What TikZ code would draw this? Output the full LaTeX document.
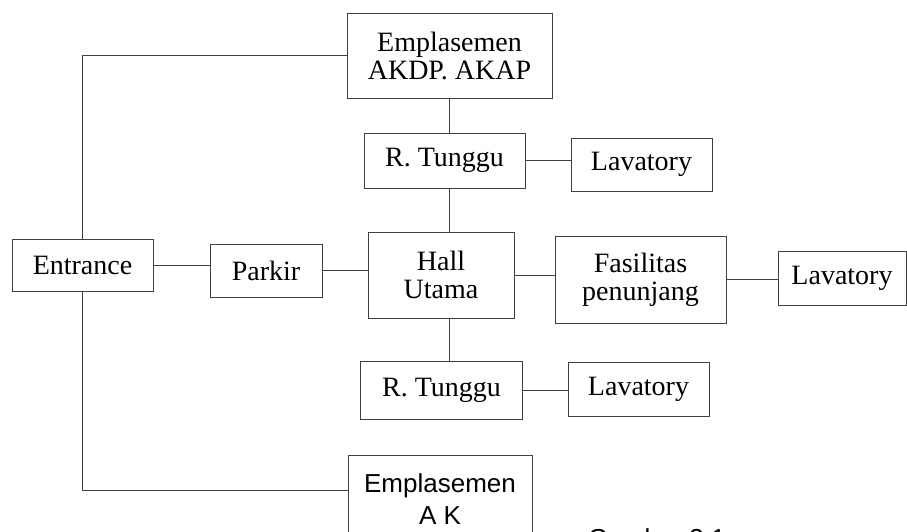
\documentclass[tikz,border=0pt]{standalone}
\usepackage{fontspec}
\setmainfont{Liberation Serif}
\newfontfamily\akfont{Liberation Sans}
\usetikzlibrary{calc}

\begin{document}
\begin{tikzpicture}[x=1pt, y=-1pt,
    every node/.style={font=\fontsize{28}{28}\selectfont},
    room/.style={draw=black!75, line width=0.8pt, inner sep=0pt, align=center},
    link/.style={draw=black!75, line width=0.8pt}]
  \useasboundingbox (0,0) rectangle (907,532);
  \clip (0,0) rectangle (907,532);

  % Emplasemen and waiting rooms
  \node[room, minimum width=205, minimum height=85] (emp) at (449.5,55.5) {Emplasemen\\AKDP. AKAP};
  \node[room, minimum width=161, minimum height=55] (rt1) at (444.5,160.5) {R. Tunggu};
  \node[room, minimum width=141, minimum height=53] (lav1) at (641.5,164.5) {Lavatory};

  % Main row
  \node[room, minimum width=141, minimum height=52] (entrance) at (82.5,265) {Entrance};
  \node[room, minimum width=112, minimum height=53] (parkir) at (266,270.5) {Parkir};
  \node[room, minimum width=146, minimum height=86] (hall) at (441,275) {Hall\\Utama};
  \node[room, minimum width=171, minimum height=87] (fas) at (640.5,279.5) {Fasilitas\\penunjang};
  \node[room, minimum width=128, minimum height=54] (lav3) at (842,278) {Lavatory};

  % Lower waiting room
  \node[room, minimum width=162, minimum height=58] (rt2) at (441.5,390) {R. Tunggu};
  \node[room, minimum width=141, minimum height=54] (lav2) at (638.5,389) {Lavatory};

  % Emplasemen AK, runs off the page
  \node[room, font=\akfont\fontsize{26}{32}\selectfont, minimum width=184, minimum height=88,
        anchor=north] (ak) at (440,455) {Emplasemen\\A K};
  \node[font=\akfont\fontsize{26}{30}\selectfont, anchor=base west, inner sep=0pt] (cap) at (588,547) {Gambar 3.1};

  % Links
  \draw[link] (entrance.north) |- (emp.west);
  \draw[link] (entrance.south) |- ($(ak.north west)+(0,35)$);
  \draw[link] (entrance.east) -- (entrance.east -| parkir.west);
  \draw[link] (parkir.east) -- (parkir.east -| hall.west);
  \draw[link] (hall.east) -- (hall.east -| fas.west);
  \draw[link] (fas.east) -- (fas.east -| lav3.west);
  \draw[link] (emp.south) -- (emp.south |- rt1.north);
  \draw[link] (emp |- rt1.south) -- (emp |- hall.north);
  \draw[link] (emp |- hall.south) -- (emp |- rt2.north);
  \draw[link] (rt1.east) -- (rt1.east -| lav1.west);
  \draw[link] (rt2.east) -- (rt2.east -| lav2.west);
\end{tikzpicture}
\end{document}
